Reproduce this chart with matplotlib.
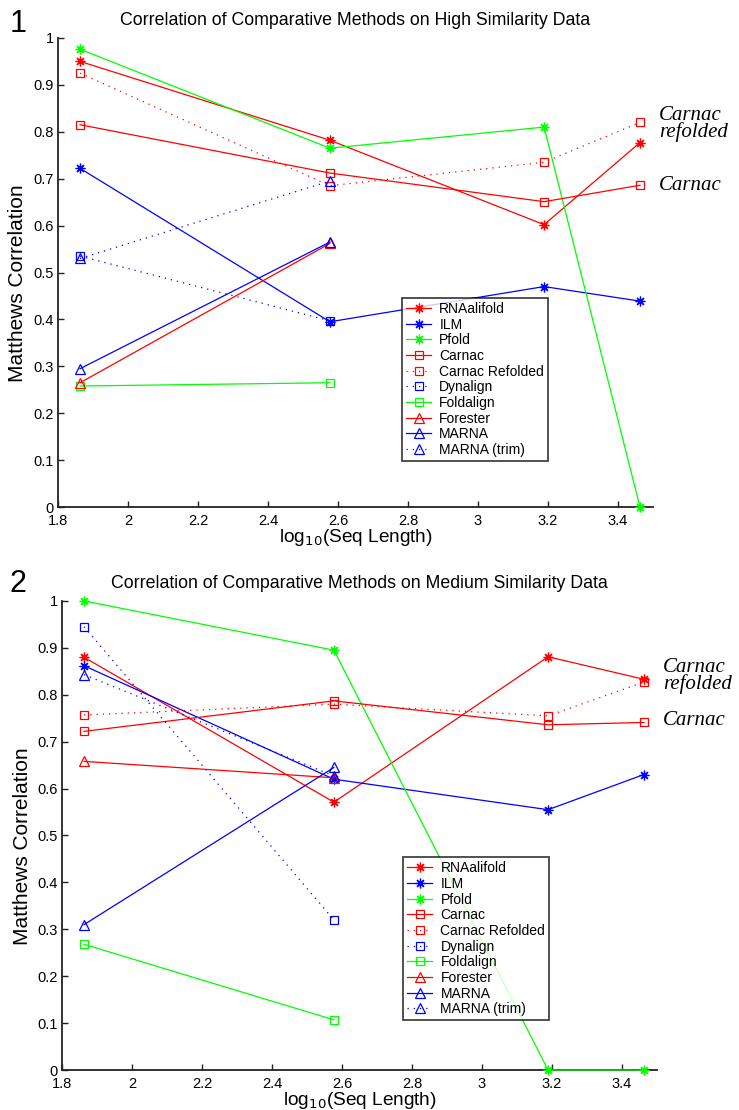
import numpy as np
import matplotlib
matplotlib.use('Agg')
import matplotlib.pyplot as plt

plt.rcParams['font.family'] = ['Liberation Sans', 'DejaVu Sans']

# log10 of the mean sequence length for each dataset
x = [1.863, 2.577, 3.189, 3.463]

# panel 1: high similarity data
high = {
    'RNAalifold':      [0.950, 0.782, 0.602, 0.777],
    'ILM':             [0.722, 0.395, 0.470, 0.439],
    'Pfold':           [0.976, 0.765, 0.810, 0.000],
    'Carnac':          [0.815, 0.712, 0.651, 0.686],
    'Carnac Refolded': [0.925, 0.685, 0.735, 0.820],
    'Dynalign':        [0.535, 0.397],
    'Foldalign':       [0.258, 0.265],
    'Forester':        [0.265, 0.562],
    'MARNA':           [0.295, 0.565],
    'MARNA (trim)':    [0.530, 0.695],
}

# panel 2: medium similarity data
medium = {
    'RNAalifold':      [0.880, 0.571, 0.881, 0.833],
    'ILM':             [0.862, 0.620, 0.555, 0.630],
    'Pfold':           [1.000, 0.895, 0.000, 0.000],
    'Carnac':          [0.722, 0.787, 0.736, 0.741],
    'Carnac Refolded': [0.757, 0.780, 0.755, 0.827],
    'Dynalign':        [0.945, 0.320],
    'Foldalign':       [0.268, 0.107],
    'Forester':        [0.658, 0.623],
    'MARNA':           [0.310, 0.645],
    'MARNA (trim)':    [0.843, 0.627],
}

titles = ['Correlation of Comparative Methods on High Similarity Data',
          'Correlation of Comparative Methods on Medium Similarity Data']
panel_labels = ['1', '2']

# MATLAB-like asterisk: 8 spokes
star = (8, 2, 0)
dots = (0, (1, 4))

# colour, marker, linestyle per method
styles = {
    'RNAalifold':      ('#ff0000', star, '-'),
    'ILM':             ('#0000ff', star, '-'),
    'Pfold':           ('#00ff00', star, '-'),
    'Carnac':          ('#ff0000', 's', '-'),
    'Carnac Refolded': ('#ff0000', 's', dots),
    'Dynalign':        ('#0000ff', 's', dots),
    'Foldalign':       ('#00ff00', 's', '-'),
    'Forester':        ('#ff0000', '^', '-'),
    'MARNA':           ('#0000ff', '^', '-'),
    'MARNA (trim)':    ('#0000ff', '^', dots),
}
msizes = {'s': 5.5, '^': 6.5}

fig = plt.figure(figsize=(7.39, 11.10), dpi=100)
axes_pos = [[0.0785, 0.5432, 0.805, 0.4226],
            [0.0839, 0.0360, 0.805, 0.4226]]
legend_anchor = [(0.578, 0.446), (0.573, 0.454)]
ylabel_x = [-0.052, -0.050]
label_y = [0.008, 0.513]       # figure y (from top) of the panel numbers
carnac_shift = [-0.003, 0.014]

for i, data in enumerate([high, medium]):
    ax = fig.add_axes(axes_pos[i])
    for name, vals in data.items():
        col, mk, ls = styles[name]
        ms = msizes.get(mk, 7) if isinstance(mk, str) else 7
        ax.plot(x[:len(vals)], vals, color=col, marker=mk, linestyle=ls,
                lw=0.9, ms=ms, mfc='none', mec=col, mew=0.9,
                label=name, clip_on=False, zorder=3)

    ax.set_xlim(1.8, 3.5)
    ax.set_ylim(0, 1)
    ax.set_xticks(np.arange(1.8, 3.41, 0.2))
    ax.set_xticklabels(['1.8', '2', '2.2', '2.4', '2.6', '2.8', '3', '3.2', '3.4'])
    ax.set_yticks(np.arange(0, 1.01, 0.1))
    ax.set_yticklabels(['0', '0.1', '0.2', '0.3', '0.4', '0.5', '0.6', '0.7',
                        '0.8', '0.9', '1'])
    ax.tick_params(direction='in', length=4, width=1, labelsize=10.5, pad=3,
                   colors='#222222', labelcolor='black')
    ax.tick_params(axis='x', pad=5)
    ax.spines['top'].set_visible(False)
    ax.spines['right'].set_visible(False)
    for s in ['left', 'bottom']:
        ax.spines[s].set_linewidth(1.3)
        ax.spines[s].set_color('#222222')

    ax.set_title(titles[i], fontsize=12.8, pad=9)
    ax.set_xlabel('log$_{10}$(Seq Length)', fontsize=13.7, labelpad=-1)
    ax.set_ylabel('Matthews Correlation', fontsize=15)
    ax.yaxis.set_label_coords(ylabel_x[i], 0.477)
    fig.text(0.013, 1 - label_y[i], panel_labels[i], fontsize=22,
             ha='left', va='top')

    leg = ax.legend(loc='upper left', bbox_to_anchor=legend_anchor[i],
                    fontsize=10, frameon=True, fancybox=False,
                    handlelength=1.8, handletextpad=0.6, labelspacing=0.12,
                    borderpad=0.3, borderaxespad=0)
    leg.get_frame().set_edgecolor('black')
    leg.get_frame().set_linewidth(1.2)

    # labels for the two Carnac curves at the right edge
    cr = data['Carnac Refolded'][-1] + carnac_shift[i]
    cn = data['Carnac'][-1] + carnac_shift[i] / 3
    ax.text(1.01, cr, 'Carnac\nrefolded', transform=ax.get_yaxis_transform(),
            fontsize=15, style='italic', family='Liberation Serif',
            ha='left', va='center', linespacing=0.8)
    ax.text(1.01, cn, 'Carnac', transform=ax.get_yaxis_transform(),
            fontsize=15, style='italic', family='Liberation Serif',
            ha='left', va='center')

fig.savefig('out.png', dpi=100)
